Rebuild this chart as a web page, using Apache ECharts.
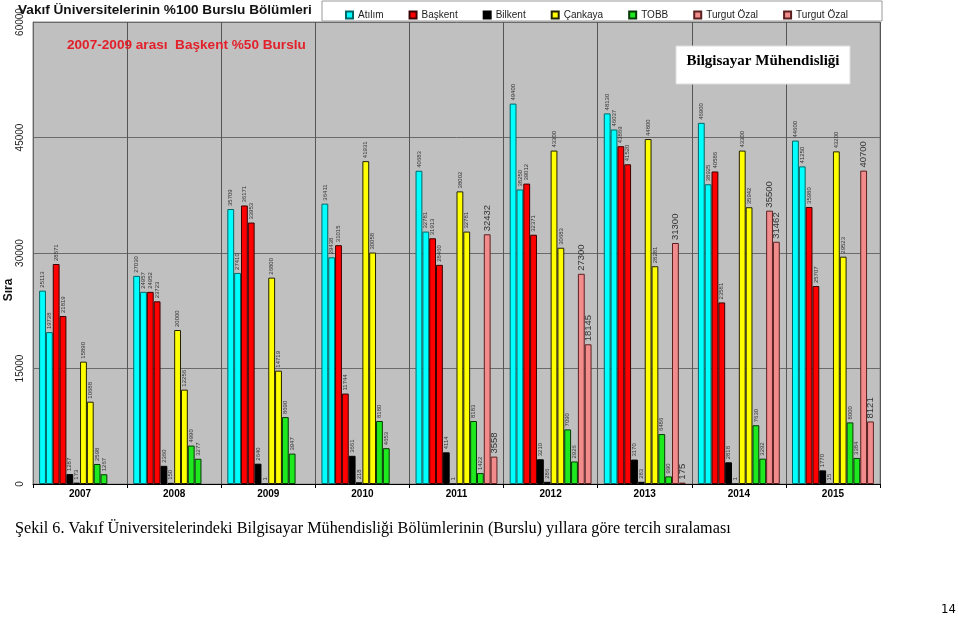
<!DOCTYPE html>
<html><head><meta charset="utf-8">
<script src="https://cdn.jsdelivr.net/npm/echarts@6/dist/echarts.min.js"></script>
<style>html,body{margin:0;padding:0;background:#fff}#c{width:959px;height:617px}</style>
</head><body><div id="c"></div>
<script>
const years = ['2007','2008','2009','2010','2011','2012','2013','2014','2015'];
const yTicks = [0, 15000, 30000, 45000, 60000];
const atilim1  = [25113, 27030, 35709, 36411, 40683, 49400, 48130, 46900, 44600];
const atilim2  = [19728, 24957, 27410, 29438, 32781, 38250, 46037, 38925, 41250];
const baskent1 = [28571, 24952, 36171, 31015, 31913, 39012, 43869, 40586, 35980];
const baskent2 = [21819, 23723, 33953, 11744, 28460, 32371, 41520, 23581, 25707];
const bilkent1 = [1287, 2360, 2640, 3661, 4114, 3210, 3170, 2818, 1770];
const bilkent2 = [173, 150, 1, 218, 1, 286, 283, 1, 15];
const cankaya1 = [15890, 20000, 26800, 41931, 38002, 43300, 44800, 43300, 43200];
const cankaya2 = [10688, 12256, 14719, 30058, 32781, 30683, 28281, 35942, 29523];
const tobb1    = [2598, 4990, 8690, 8180, 8183, 7090, 6486, 7630, 8000];
const tobb2    = [1267, 3277, 3947, 4653, 1422, 2926, 990, 3292, 3384];
const turgut1  = [null, null, null, null, 32432, 27300, 31300, 35500, 40700];
const turgut2  = [null, null, null, null, 3558, 18145, 175, 31462, 8121];

const chart = echarts.init(document.getElementById('c'), null, {renderer:'canvas'});

function bar(name, data, color, border, big) {
  return {
    name: name, type: 'bar', data: data,
    barGap: '0%', barCategoryGap: '13%',
    itemStyle: { color: color, borderColor: border, borderWidth: 1 },
    label: {
      show: true, position: 'top', rotate: 90, align: 'left', verticalAlign: 'middle',
      distance: 3, fontSize: big ? 9.5 : 6, color: '#333', fontFamily: 'Liberation Sans',
      formatter: p => (p.value == null ? '' : String(p.value))
    },
    emphasis: { disabled: true }
  };
}

const CY = '#00FFFF', CYB = '#006666';
const RD = '#FF0000', RDB = '#3a0000';
const BK = '#000000', BKB = '#000000';
const YL = '#FFFF00', YLB = '#222200';
const GR = '#1EE81E', GRB = '#063806';
const PK = '#F28B8B', PKB = '#5a2020';

const option = {
  animation: false,
  backgroundColor: '#ffffff',
  textStyle: { fontFamily: 'Liberation Sans' },
  grid: { left: 33, right: 79, top: 22, bottom: 133, show: true, backgroundColor: '#C0C0C0', borderColor: '#888', borderWidth: 1 },
  legend: {
    data: ['Atılım', 'Başkent', 'Bilkent', 'Çankaya', 'TOBB', 'Turgut Özal', 'Turgut Özal '],
    left: 340, top: 5, itemWidth: 7, itemHeight: 7, itemGap: 25, icon: 'rect',
    textStyle: { fontSize: 10, color: '#222', fontFamily: 'Liberation Sans' }
  },
  xAxis: {
    type: 'category', data: years,
    axisLine: { lineStyle: { color: '#000' } },
    axisTick: { show: true, length: 4, lineStyle: { color: '#000' } },
    splitLine: { show: true, lineStyle: { color: '#555', width: 1 } },
    axisLabel: { fontWeight: 'bold', fontSize: 10, color: '#000', margin: 5 }
  },
  yAxis: {
    type: 'value', min: yTicks[0], max: yTicks[yTicks.length - 1], interval: 15000,
    axisLine: { show: true, lineStyle: { color: '#666' } },
    axisTick: { show: false },
    splitLine: { show: true, lineStyle: { color: '#6a6a6a', width: 1 } },
    axisLabel: { rotate: 90, fontSize: 10, color: '#222', margin: 8, formatter: v => String(v) }
  },
  series: [
    bar('Atılım', atilim1, CY, CYB),
    bar('Atılım 2', atilim2, CY, CYB),
    bar('Başkent', baskent1, RD, RDB),
    bar('Başkent 2', baskent2, RD, RDB),
    bar('Bilkent', bilkent1, BK, BKB),
    bar('Bilkent 2', bilkent2, BK, BKB),
    bar('Çankaya', cankaya1, YL, YLB),
    bar('Çankaya 2', cankaya2, YL, YLB),
    bar('TOBB', tobb1, GR, GRB),
    bar('TOBB 2', tobb2, GR, GRB),
    bar('Turgut Özal', turgut1, PK, PKB, true),
    bar('Turgut Özal ', turgut2, PK, PKB, true)
  ],
  graphic: [
    { type: 'rect', z: 0, shape: { x: 322, y: 1, width: 560, height: 20 }, style: { fill: '#fff', stroke: '#999', lineWidth: 1 } },
    { type: 'text', z: 5, x: 18, y: 3, style: { text: 'Vakıf Üniversitelerinin %100 Burslu Bölümleri', font: 'bold 13.6px "Liberation Sans"', fill: '#111' } },
    { type: 'text', z: 5, x: 67, y: 38, style: { text: '2007-2009 arası  Başkent %50 Burslu', font: 'bold 13.6px "Liberation Sans"', fill: '#E3202A' } },
    { type: 'rect', z: 10, shape: { x: 676, y: 46, width: 174, height: 38 }, style: { fill: '#fff', stroke: '#ddd', lineWidth: 1 } },
    { type: 'text', z: 11, x: 763, y: 61, style: { text: 'Bilgisayar Mühendisliği', font: 'bold 15px "Liberation Serif"', fill: '#000', align: 'center', verticalAlign: 'middle' } },
    { type: 'text', z: 5, x: 9, y: 290, rotation: Math.PI / 2, style: { text: 'Sıra', font: 'bold 12px "Liberation Sans"', fill: '#111', align: 'center', verticalAlign: 'middle' } },
    { type: 'text', z: 5, x: 15, y: 521, style: { text: 'Şekil 6. Vakıf Üniversitelerindeki Bilgisayar Mühendisliği Bölümlerinin (Burslu) yıllara göre tercih sıralaması', font: '16.2px "Liberation Serif"', fill: '#000' } },
    { type: 'text', z: 5, x: 941, y: 603, style: { text: '14', font: '13px "DejaVu Sans Condensed"', fill: '#000' } }
  ]
};
chart.setOption(option);
</script>
</body></html>
